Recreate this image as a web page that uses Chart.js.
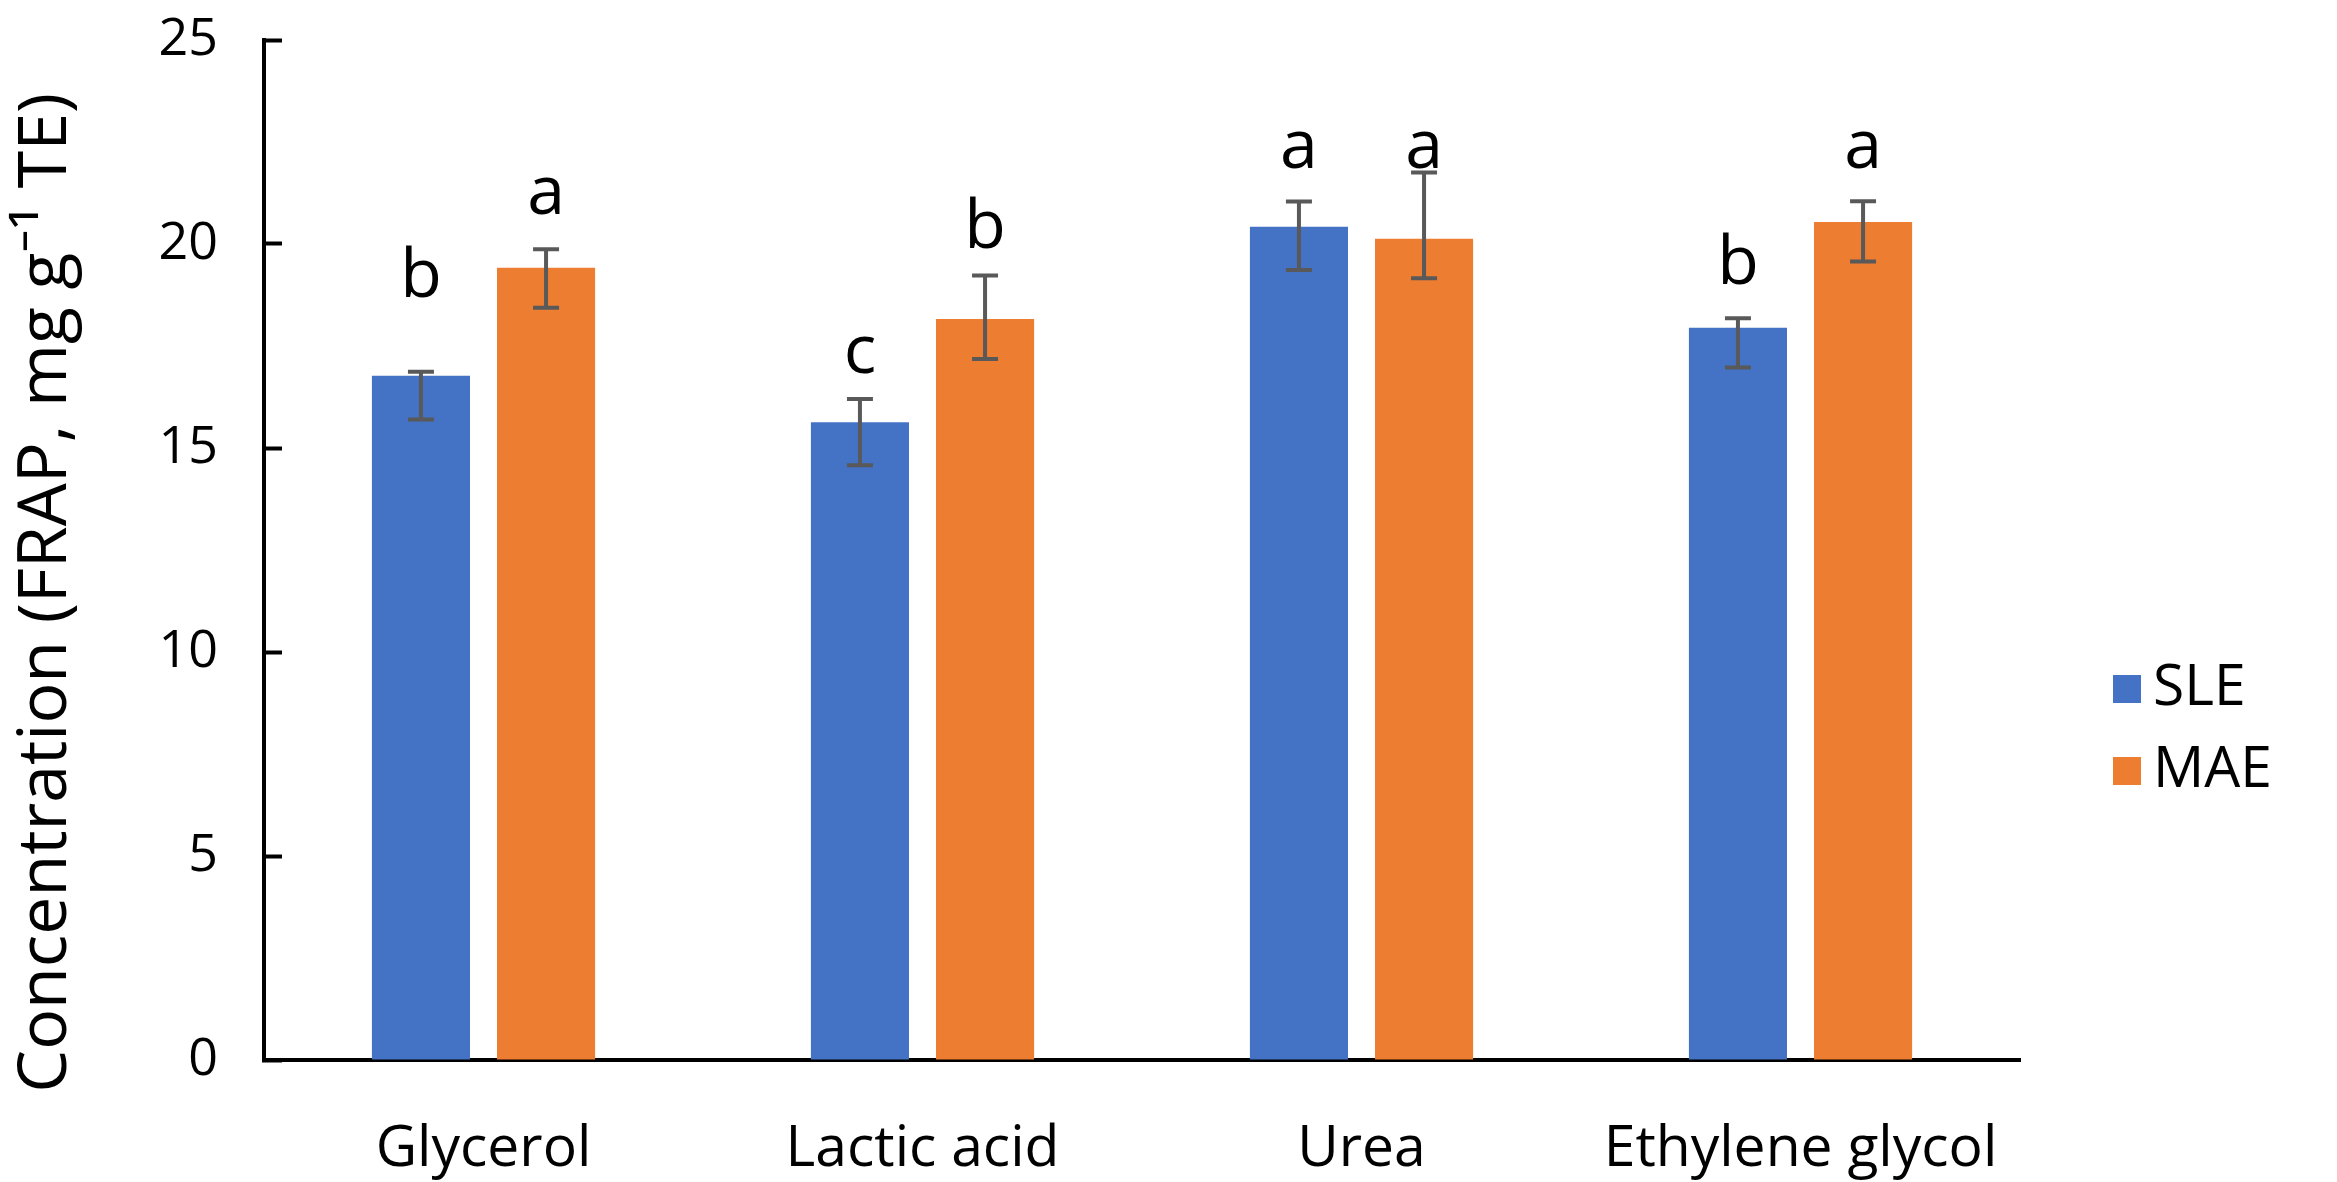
<!DOCTYPE html>
<html><head><meta charset="utf-8">
<script src="https://cdn.jsdelivr.net/npm/chart.js@4.4.1/dist/chart.umd.min.js"></script>
<style>html,body{margin:0;padding:0;background:#fff;}#wrap{width:2337px;height:1182px;}</style>
</head><body><div id="wrap"><canvas id="c" width="2337" height="1182"></canvas></div>
<script>
const categories = ['Glycerol', 'Lactic acid', 'Urea', 'Ethylene glycol'];
const seriesNames = ['SLE', 'MAE'];
const sleValues = [16.77, 15.63, 20.42, 17.95];
const maeValues = [19.42, 18.16, 20.13, 20.54];
const sleUpper = [16.87, 16.20, 21.04, 18.18];
const sleLower = [15.70, 14.58, 19.36, 16.97];
const maeUpper = [19.87, 19.23, 21.75, 21.05];
const maeLower = [18.44, 17.18, 19.16, 19.57];
const sleLetters = ['b', 'c', 'a', 'b'];
const maeLetters = ['a', 'b', 'a', 'a'];
const sleLetterY = [18.70, 16.85, 21.86, 19.02];
const maeLetterY = [20.73, 19.90, 21.86, 21.86];
const yMin = 0, yMax = 25, yStep = 5;
const yTitle = 'Concentration (FRAP, mg g\u207B\u00B9 TE)\u2002\u2002 ';

const FONT = "'Open Sans', 'Noto Sans', sans-serif";
Chart.defaults.font.family = FONT;
Chart.defaults.color = '#000';

const errorBarPlugin = {
  id: 'errorBars',
  afterDatasetsDraw(chart) {
    const ctx = chart.ctx;
    const y = chart.scales.y;
    chart.data.datasets.forEach((ds, i) => {
      const meta = chart.getDatasetMeta(i);
      meta.data.forEach((bar, j) => {
        const x = bar.x;
        const yu = y.getPixelForValue(ds.errUpper[j]);
        const yl = y.getPixelForValue(ds.errLower[j]);
        ctx.save();
        ctx.strokeStyle = '#595959';
        ctx.lineWidth = 4;
        ctx.beginPath();
        ctx.moveTo(x, yu); ctx.lineTo(x, yl);
        ctx.moveTo(x - 13, yu); ctx.lineTo(x + 13, yu);
        ctx.moveTo(x - 13, yl); ctx.lineTo(x + 13, yl);
        ctx.stroke();
        ctx.fillStyle = '#000';
        ctx.font = "68px " + FONT;
        ctx.textAlign = 'center';
        ctx.textBaseline = 'alphabetic';
        ctx.fillText(ds.letters[j], x, y.getPixelForValue(ds.letterY[j]));
        ctx.restore();
      });
    });
  }
};

const legendPlugin = {
  id: 'customLegend',
  afterDraw(chart) {
    const ctx = chart.ctx;
    const baseY = 689, gap = 82;
    chart.data.datasets.forEach((ds, i) => {
      const cy = baseY + i * gap;
      ctx.save();
      ctx.fillStyle = ds.backgroundColor;
      ctx.fillRect(2113, cy - 14, 28, 28);
      ctx.fillStyle = '#000';
      ctx.font = "57px " + FONT;
      ctx.textAlign = 'left';
      ctx.textBaseline = 'middle';
      ctx.fillText(ds.label, 2153, cy);
      ctx.restore();
    });
  }
};

new Chart(document.getElementById('c'), {
  type: 'bar',
  data: {
    labels: categories,
    datasets: [
      { label: seriesNames[0], data: sleValues, backgroundColor: '#4472C4', errUpper: sleUpper, errLower: sleLower, letters: sleLetters, letterY: sleLetterY },
      { label: seriesNames[1], data: maeValues, backgroundColor: '#ED7D31', errUpper: maeUpper, errLower: maeLower, letters: maeLetters, letterY: maeLetterY }
    ]
  },
  options: {
    responsive: false,
    devicePixelRatio: 1,
    animation: false,
    datasets: { bar: { categoryPercentage: 0.57, barPercentage: 0.784 } },
    layout: { padding: { left: 0, right: 317, top: 40, bottom: 0 } },
    plugins: { legend: { display: false }, tooltip: { enabled: false } },
    scales: {
      x: {
        grid: { display: false, drawTicks: false },
        border: { display: true, color: '#000', width: 4 },
        ticks: { font: { size: 57 }, color: '#000', padding: 56 },
        afterFit(s) { s.height = 122; }
      },
      y: {
        min: yMin, max: yMax,
        ticks: { stepSize: yStep, font: { size: 52 }, color: '#000', padding: 64 },
        grid: { drawOnChartArea: false, drawTicks: true, tickLength: -18, tickWidth: 4, tickColor: '#000' },
        border: { display: true, color: '#000', width: 4 },
        title: { display: true, text: yTitle, font: { size: 68 }, color: '#000', padding: { top: 6, bottom: 0 } },
        afterFit(s) { s.width = 264; s.paddingTop = 0; s.paddingBottom = 0; }
      }
    }
  },
  plugins: [errorBarPlugin, legendPlugin]
});
</script>
</body></html>
